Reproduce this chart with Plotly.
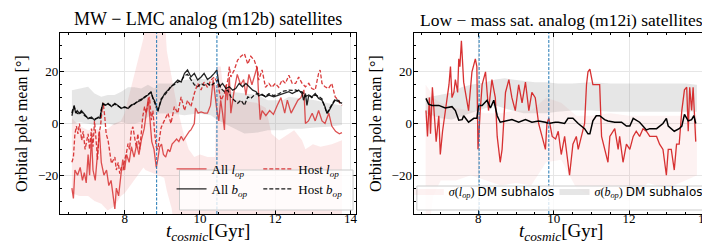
import plotly.graph_objects as go

# ---------------- Left panel (m12b) ----------------
t_all_l_b = [6.60,6.64,6.68,6.75,6.82,6.88,6.93,6.98,7.03,7.07,7.12,7.16,7.22,7.28,7.33,7.38,7.45,7.52,7.58,7.64,7.70,7.74,7.78,7.84,7.90,7.95,8.00,8.05,8.12,8.18,8.25,8.32,8.38,8.45,8.52,8.58,8.63,8.67,8.72,8.78,8.84,8.88,8.93,8.98,9.03,9.09,9.15,9.20,9.26,9.32,9.38,9.44,9.50,9.56,9.62,9.67,9.72,9.76,9.85,9.88,9.95,10.03,10.12,10.20,10.28,10.35,10.40,10.45,10.50,10.55,10.60,10.65,10.69,10.73,10.78,10.82,10.91,10.99,11.08,11.16,11.22,11.30,11.38,11.47,11.52,11.55,11.60,11.65,11.75,11.85,11.95,12.05,12.15,12.25,12.32,12.42,12.50,12.60,12.68,12.76,12.80,12.88,12.98,13.06,13.15,13.24,13.32,13.42,13.50,13.60,13.70,13.77]
all_l_b = [-25,-29,-18,-20,-17,-22,-19,-23,-12,-20,-5,-18,-22,-10,-3,-15,-20,-18,-24,-22,-28,-33,-25,-28,-20,-14,-18,-12,-15,-9,-13,-8,-12,-6,-2,5,10,2,-7,-10,-17,-14,-9,-8,-12,-13,-10,-11,-8,-7,-6,-7,-5,-6.5,-5,-4,-3,-2.5,0,6,4,4.5,4,4,7,17,10,5,1,9,4,-2.5,15,9,18,4,13,19,15,17,11,19,15,20,22,13,1.5,5,3,5,3.5,7,10,4,9,4,6.5,9,10,13,0,1,4,1,5,1,0,4,-1,-3,-4,-3.5]

t_host_l_b = [6.60,6.64,6.68,6.72,6.76,6.80,6.86,6.90,6.95,7.03,7.07,7.12,7.16,7.20,7.24,7.28,7.32,7.36,7.40,7.43,7.47,7.51,7.56,7.60,7.65,7.74,7.78,7.83,7.87,7.91,7.96,8.00,8.04,8.09,8.13,8.18,8.22,8.26,8.31,8.35,8.40,8.44,8.48,8.53,8.57,8.62,8.66,8.71,8.75,8.80,8.84,8.88,8.93,8.97,9.06,9.15,9.23,9.32,9.41,9.50,9.59,9.67,9.76,9.85,9.94,10.03,10.11,10.20,10.29,10.38,10.47,10.56,10.65,10.74,10.78,10.82,10.91,11.00,11.09,11.18,11.27,11.35,11.44,11.53,11.56,11.65,11.74,11.83,11.91,12.00,12.09,12.18,12.27,12.36,12.45,12.54,12.62,12.71,12.80,12.89,12.97,13.06,13.15,13.19,13.24,13.32,13.41,13.50,13.59,13.68,13.72,13.77]
host_l_b = [-15,-13,-4,-1,-4,0,-6.5,-3,-10,-4,-10,-2,-9,1,-6,-14,-4,-1,5,8,3,-4,-6.5,-11.6,-15.5,-13,-18,-15,-19.4,-17,-18,-14,-12,-7.8,-10,-2.6,-1.3,-5,-9,-4,-10,-4,2.6,6.5,4,7.8,10.3,1.3,5,-4,-9,-10,-4,-1.5,1.3,4,0,6.5,4,10.3,5,9,6.5,11.6,15.5,13,16,14,16.8,18,15.5,9,11.6,16.8,22,18,20.7,24.5,26,27,23,26,24.5,20.7,16.8,20.7,14,15.5,14,15.5,14,16.8,15.5,18.7,15.5,15.5,18,15.5,14.2,15.5,13.5,13,19.4,20.7,15.5,14.2,13.5,15.5,10.3,9,7.8,7]

t_all_b_b = [6.60,6.63,6.66,6.70,6.74,6.80,6.85,6.94,7.03,7.12,7.20,7.30,7.35,7.38,7.42,7.50,7.56,7.65,7.74,7.82,7.91,8.00,8.09,8.18,8.26,8.35,8.44,8.53,8.62,8.70,8.75,8.79,8.84,8.88,8.93,8.97,9.06,9.15,9.23,9.32,9.41,9.50,9.59,9.67,9.76,9.85,9.94,10.03,10.11,10.20,10.29,10.38,10.45,10.51,10.60,10.69,10.78,10.87,10.95,11.04,11.13,11.22,11.31,11.40,11.49,11.56,11.65,11.74,11.83,11.96,12.09,12.22,12.36,12.45,12.54,12.62,12.71,12.75,12.80,12.84,12.89,12.97,13.06,13.15,13.24,13.32,13.37,13.41,13.50,13.59,13.68,13.77]
all_b_b = [3,5.2,7,4,5,3.9,5,3.5,1.9,2.5,1.3,2.5,1.9,5,7.8,7.1,7.8,6.5,7.8,7,5.8,6.5,5.8,7,7.8,8.4,9,10.3,11,12.3,9.7,9,7,5,7,9,11.6,13,14.2,15.5,16.8,16,19.4,20.7,18,19.4,16.8,18,19.4,17,18,19.4,20.7,14.2,15.5,13.5,14.2,12.9,13.5,15.5,14.2,15.5,14.2,12.9,12.3,10.7,11.3,10.3,11,10.3,11,11.6,12.3,11.6,12.3,12.9,11.6,9,11.6,7,11,10.3,11.6,9.7,9,6.5,3.9,4.5,7,9,8.4,7.8]

t_host_b_b = [6.60,6.63,6.66,6.70,6.74,6.80,6.85,6.94,7.03,7.12,7.20,7.30,7.35,7.38,7.42,7.50,7.56,7.65,7.74,7.82,7.91,8.00,8.09,8.18,8.26,8.35,8.44,8.53,8.62,8.70,8.75,8.79,8.84,8.88,8.93,8.97,9.06,9.15,9.23,9.32,9.41,9.50,9.59,9.67,9.76,9.85,9.94,10.03,10.11,10.20,10.29,10.38,10.47,10.56,10.65,10.74,10.82,10.91,11.00,11.09,11.18,11.27,11.35,11.44,11.53,11.65,11.74,11.83,11.96,12.09,12.22,12.36,12.45,12.54,12.62,12.71,12.80,12.89,12.97,13.06,13.15,13.24,13.32,13.37,13.41,13.50,13.59,13.68,13.77]
host_b_b = [4,6,6.5,4.5,4,3.5,4.5,3,2.2,2,1.8,2.2,2.5,5.5,7.5,7,7.5,6.8,7.5,6.8,6,6.2,6,7.2,7.5,8.8,9.4,10,11.3,12,10,8.5,6,4.5,7.5,9.5,11,12.5,14.5,15,16,16.5,18.5,19,17,15,14.2,15.5,14.8,15.5,14.5,15.5,16.8,13.5,12.3,12.9,10.3,9,7.8,9,7,10.3,9.7,11,11.6,11,10.5,11.5,10.8,11.5,12.5,12.9,12.8,13,12.4,12.2,10.5,11,10,11,10.5,9.5,6,4,5,7.5,9.5,8.8,8]

t_band_l_b = [6.60,6.80,7.03,7.20,7.38,7.55,7.73,7.90,8.00,8.05,8.20,8.35,8.50,8.55,9.05,9.12,9.25,9.35,9.45,9.55,9.70,9.85,10.00,10.20,10.40,10.45,10.55,10.65,11.00,11.50,11.75,11.90,12.10,12.36,12.50,12.71,12.80,13.00,13.20,13.50,13.77]
band_l_lo_b = [-27,-28,-28,-30,-31,-33.6,-32,-28,-27,-26,-23,-20,-17,-18,-21,-26,-33,-45,-45,-45,-45,-45,-45,-45,-45,-45,-45,-45,-45,-45,-45,-45,-45,-45,-45,-45,-45,-45,-45,-45,-45]
band_l_hi_b = [2,-1,-2.6,-2,-2.6,-2,0,1,4,7,16,25,33,45,45,28,17,10,3,-3,-10,-13,-12,-13,-13,22,22,10,9,8,6,-4,-6.5,-4,-2.6,-6.5,-10,-8,-9,-8,-6.5]

t_band_b_b = [6.60,6.80,7.03,7.20,7.38,7.55,7.73,7.91,8.09,8.26,8.44,8.62,8.79,8.88,9.24,9.59,9.94,10.29,10.47,10.82,11.18,11.53,11.80,12.20,12.36,12.71,13.06,13.41,13.77]
band_b_lo_b = [0,0.5,0,-0.6,-0.6,0,-0.6,0.6,0,0,0.6,2.6,3.2,3.9,3.9,3.2,3.9,3.2,1.3,-1.3,-3.9,-3.5,-2.6,-2.6,-2,-2,-1.5,-1.3,-0.6]
band_b_hi_b = [12.9,13.5,14.2,11.6,10.3,11,11,12.3,14,14,13.5,15,13.5,15.5,15.5,16.8,17.4,16.8,14.2,12.3,11.6,11,9,9,10.3,9.7,9,7.8,7]

events_b = [8.85, 10.45]

# ---------------- Right panel (m12i) ----------------
t_all_l_i = [6.61,6.65,6.70,6.73,6.78,6.83,6.88,6.95,6.99,7.05,7.08,7.17,7.22,7.26,7.30,7.35,7.39,7.45,7.48,7.51,7.55,7.61,7.65,7.74,7.83,7.92,7.96,7.99,8.05,8.10,8.19,8.27,8.36,8.45,8.50,8.58,8.63,8.72,8.81,8.89,8.98,9.07,9.16,9.25,9.34,9.42,9.51,9.60,9.69,9.78,9.82,9.87,9.96,10.05,10.12,10.20,10.29,10.38,10.42,10.51,10.60,10.65,10.73,10.82,10.87,10.91,10.96,11.04,11.13,11.22,11.27,11.35,11.44,11.49,11.58,11.62,11.71,11.75,11.84,11.93,12.02,12.11,12.19,12.28,12.37,12.46,12.55,12.73,12.81,12.90,12.99,13.04,13.12,13.20,13.26,13.33,13.40,13.47,13.53,13.57,13.61,13.66,13.70,13.75,13.77]
all_l_i = [5,-5,10,-4,14,2,-7,3,-12,-3,0,8,15,22,10,12,17,12,25,22,32,16,12,5,20,25,22,-10,5,15,20,5,17,10,-5,-15,-10,12,17,10,5,15,8,16,5,12,10,0,-5,-10,0,2,-5,-6,-3,-12,-5,-15,-20,-8,-5,-10,-5,0,15,20,21,15,15,15,-5,-10,-15,-5,-3,-2,-10,-5,-15,-8,-10,-5,-3,-5,-2,-3,-5,-5,-8,-10,-20,-10,-10,-18,-8,-8,5,13,14,-3,14,5,14,-5,-7]

t_all_b_i = [6.61,6.68,6.77,6.95,7.12,7.30,7.39,7.48,7.57,7.61,7.74,7.88,7.96,8.01,8.10,8.23,8.32,8.41,8.50,8.58,8.72,8.89,9.07,9.25,9.42,9.60,9.78,9.87,10.04,10.12,10.29,10.38,10.51,10.65,10.82,10.91,10.96,11.04,11.13,11.22,11.35,11.44,11.62,11.80,11.93,12.02,12.11,12.28,12.46,12.55,12.73,12.90,12.99,13.04,13.20,13.33,13.40,13.47,13.57,13.66,13.72,13.77]
all_b_i = [9.7,7.5,7,7,6,6.5,5,1.3,1.5,3,0.5,2,2,7,7,9,6,9,3,0.5,1,1.5,0.5,1.5,0.5,1,0.5,0,0.5,0.5,0,2,2,0,-2,-4,-4,1,3,3,1.5,1,0.5,0.5,-1,-1,2,0.5,-2.5,-2,-2,0,2,-1,-3,-2,-1,3.5,1,1.5,3,0]

t_band_i = [6.60,6.70,6.80,7.00,7.40,7.80,8.20,8.60,9.00,9.40,9.80,10.20,10.60,11.00,11.50,12.00,12.50,13.00,13.50,13.80]
band_l_lo_i = [-45,-40,-28,-22,-22,-20,-22,-24,-23,-24,-15,-14,-25,-28,-27,-30,-23,-25,-22,-20]
band_l_hi_i = [15,13,10,8,6,5,4,4,5,5,10,8,3,3,4,3,3,3,3,3]

t_band_b_i = [6.60,6.80,7.00,7.30,7.55,7.80,8.00,8.20,8.45,8.70,8.90,9.20,9.50,9.80,10.10,10.50,11.00,11.50,12.00,12.50,13.00,13.50,13.80]
band_b_lo_i = [4,3,2,1.5,3,4,5,6,7,6,5,4,4,4,4.5,5,5,4.5,4.5,4.5,4.5,4.5,4.5]
band_b_hi_i = [10,10.5,11,12,14,15,15.5,16,17,17.5,17,16.5,16,16,15.5,15.5,16,15.5,15.5,15.5,15.5,15.5,15]

events_i = [8.02, 9.87]

# ---------------- Styling ----------------
RED = "#d62728"
PINK = "rgba(235,110,110,0.16)"
PINK_R = "rgba(235,110,110,0.09)"
GRAY = "rgba(128,128,128,0.2)"
BLUE = "#1f77b4"
SERIF = "Liberation Serif, DejaVu Serif, serif"

fig = go.Figure()

def band(t, lo, hi, color, xa, ya, name=None, legend=None):
    fig.add_trace(go.Scatter(
        x=list(t) + list(t)[::-1], y=list(hi) + list(lo)[::-1],
        fill="toself", fillcolor=color, mode="lines", line=dict(width=0),
        xaxis=xa, yaxis=ya, hoverinfo="skip",
        name=name or "", showlegend=name is not None,
        legend=legend or "legend"))

def line(t, v, color, dash, xa, ya, name=None, legend=None, opacity=1.0, width=1.3):
    fig.add_trace(go.Scatter(
        x=t, y=v, mode="lines", line=dict(color=color, dash=dash, width=width),
        opacity=opacity, xaxis=xa, yaxis=ya,
        name=name or "", showlegend=name is not None, legend=legend or "legend"))

DASH = "4px,2px"
band(t_band_l_b, band_l_lo_b, band_l_hi_b, PINK, "x", "y")
band(t_band_b_b, band_b_lo_b, band_b_hi_b, GRAY, "x", "y")
line(t_host_l_b, host_l_b, RED, DASH, "x", "y", "Host <i>l<sub>op</sub></i>", "legend2", 0.9)
line(t_all_l_b, all_l_b, RED, "solid", "x", "y", "All <i>l<sub>op</sub></i>", "legend", 0.8)
line(t_host_b_b, host_b_b, "black", DASH, "x", "y", "Host <i>b<sub>op</sub></i>", "legend2", 0.9)
line(t_all_b_b, all_b_b, "black", "solid", "x", "y", "All <i>b<sub>op</sub></i>", "legend", 0.85)

band(t_band_i, band_l_lo_i, band_l_hi_i, PINK_R, "x2", "y2",
     "<i>σ</i>(<i>l<sub>op</sub></i>) <span style='font-family:DejaVu Sans'>DM subhalos</span>", "legend3")
band(t_band_b_i, band_b_lo_i, band_b_hi_i, GRAY, "x2", "y2",
     "<i>σ</i>(<i>b<sub>op</sub></i>) <span style='font-family:DejaVu Sans'>DM subhalos</span>", "legend4")
line(t_all_l_i, all_l_i, RED, "solid", "x2", "y2", opacity=0.95)
line(t_all_b_i, all_b_i, "black", "solid", "x2", "y2", width=1.5)

W, H = 710, 248
dom_l = [52 / W, 348.5 / W]
dom_r = [406.7 / W, 703.3 / W]
dom_y = [1 - 206 / H, 1 - 25 / H]

axis_common = dict(
    range=[6.28, 14.13], tickvals=[8, 10, 12, 14], ticks="inside", ticklen=4, tickwidth=1,
    tickcolor="black", showline=True, linecolor="black", linewidth=1, mirror="allticks",
    showgrid=True, gridcolor="#e6e6e6", gridwidth=1, zeroline=False,
    tickfont=dict(family=SERIF, size=13, color="black"),
    minor=dict(dtick=0.5, ticks="inside", ticklen=2, tickwidth=0.8, tickcolor="black", showgrid=False),
)
yaxis_common = dict(
    range=[-35, 35], tickvals=[-20, 0, 20], ticks="inside", ticklen=4, tickwidth=1,
    tickcolor="black", showline=True, linecolor="black", linewidth=1, mirror="allticks",
    showgrid=True, gridcolor="#e6e6e6", gridwidth=1, zeroline=False,
    tickfont=dict(family=SERIF, size=13, color="black"),
    minor=dict(dtick=5, ticks="inside", ticklen=2, tickwidth=0.8, tickcolor="black", showgrid=False),
)

LEGFONT = dict(family=SERIF, size=13, color="black")
fig.update_layout(
    width=W, height=H, autosize=False, margin=dict(l=0, r=0, t=0, b=0),
    paper_bgcolor="white", plot_bgcolor="white",
    xaxis=dict(domain=dom_l, anchor="y", **axis_common),
    yaxis=dict(domain=dom_y, anchor="x", **yaxis_common),
    xaxis2=dict(domain=dom_r, anchor="y2", **axis_common),
    yaxis2=dict(domain=dom_y, anchor="x2", **yaxis_common),
    legend=dict(x=164 / W, y=1 - 146 / H, xanchor="left", yanchor="top", bgcolor="rgba(0,0,0,0)",
                font=LEGFONT, tracegroupgap=0, itemwidth=30, traceorder="normal"),
    legend2=dict(x=251 / W, y=1 - 146 / H, xanchor="left", yanchor="top", bgcolor="rgba(0,0,0,0)",
                 font=LEGFONT, tracegroupgap=0, itemwidth=30, traceorder="normal"),
    legend3=dict(x=402 / W, y=1 - 183 / H, xanchor="left", yanchor="middle", bgcolor="rgba(0,0,0,0)",
                 font=dict(family=SERIF, size=12, color="black"), itemwidth=30),
    legend4=dict(x=548 / W, y=1 - 183 / H, xanchor="left", yanchor="middle", bgcolor="rgba(0,0,0,0)",
                 font=dict(family=SERIF, size=12, color="black"), itemwidth=30),
    showlegend=True,
)
try:
    fig.update_xaxes(ticklabelstandoff=-8)
    fig.update_yaxes(ticklabelstandoff=-2)
except Exception:
    pass

shapes = []
for ev in events_b:
    shapes.append(dict(type="line", xref="x", yref="y domain", x0=ev, x1=ev, y0=0, y1=1,
                       line=dict(color=BLUE, width=1, dash="3px,1.5px")))
for ev in events_i:
    shapes.append(dict(type="line", xref="x2", yref="y2 domain", x0=ev, x1=ev, y0=0, y1=1,
                       line=dict(color=BLUE, width=1, dash="3px,1.5px")))
shapes.append(dict(type="rect", xref="paper", yref="paper", x0=172 / W, x1=346 / W,
                   y0=1 - 202 / H, y1=1 - 162 / H, fillcolor="rgba(255,255,255,0.8)",
                   line=dict(color="#cccccc", width=1), layer="above"))
shapes.append(dict(type="rect", xref="paper", yref="paper", x0=410 / W, x1=700 / W,
                   y0=1 - 202 / H, y1=1 - 178 / H, fillcolor="rgba(255,255,255,0.8)",
                   line=dict(color="#cccccc", width=1), layer="above"))
fig.update_layout(shapes=shapes)

ann = []
cx_l = (dom_l[0] + dom_l[1]) / 2
cx_r = (dom_r[0] + dom_r[1]) / 2
ann.append(dict(text="MW − LMC analog (m12b) satellites", x=cx_l, y=1 - 12 / H, size=18))
ann.append(dict(text="Low − mass sat. analog (m12i) satellites", x=cx_r, y=1 - 12 / H, size=17.5))
ann.append(dict(text="<i>t<sub>cosmic</sub></i>[Gyr]", x=cx_l, y=1 - 224 / H, size=19))
ann.append(dict(text="<i>t<sub>cosmic</sub></i>[Gyr]", x=cx_r, y=1 - 224 / H, size=19))
for a in ann:
    s = a.pop("size")
    a.update(xref="paper", yref="paper", showarrow=False, xanchor="center", yanchor="middle",
             font=dict(family=SERIF, size=s, color="black"))
for xp in (14, 369):
    ann.append(dict(text="Orbital pole mean [°]", x=xp / W, y=1 - 115 / H, textangle=-90,
                    xref="paper", yref="paper", showarrow=False, xanchor="center", yanchor="middle",
                    font=dict(family=SERIF, size=16, color="black")))
fig.update_layout(annotations=ann)

fig.write_html("out.html")
